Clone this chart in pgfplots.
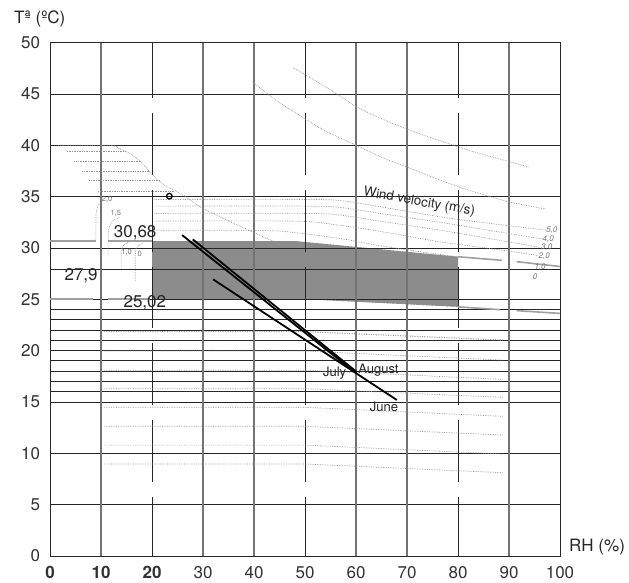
\documentclass[border=0pt]{standalone}
\usepackage{pgfplots}
\pgfplotsset{compat=1.18}
\usetikzlibrary{patterns}
\usepackage{fontspec}
\setmainfont{TeX Gyre Heros}
\definecolor{boxgray}{RGB}{140,140,140}
\definecolor{dotgray}{RGB}{150,150,150}
\definecolor{solgray}{RGB}{160,160,160}
\begin{document}
\begin{tikzpicture}
\begin{axis}[
  scale only axis, width=510pt, height=513.3pt,
  xmin=0,xmax=100,ymin=0,ymax=50,
  axis line style={black!85,line width=0.9pt},
  xtick={0,10,...,100}, ytick={0,5,...,50},
  major tick length=0pt,
  xticklabels={\textbf{0},\textbf{10},\textbf{20},30,40,50,60,70,80,90,100},
  ticklabel style={font=\fontsize{17}{20}\selectfont, text=black!80},
  xticklabel style={yshift=-7pt},
  yticklabel style={xshift=-6.5pt},
  /pgf/number format/assume math mode=true,
  clip=false,
  hgrid/.style={black!85,line width=0.9pt},
  vgrid/.style={black!55,line width=1.1pt},
  vdash/.style={black!85,line width=0.9pt,dash pattern=on 61.7pt off 15pt,dash phase=6.1pt},
  dots/.style={dotgray,line width=0.7pt,densely dotted},
  sol/.style={solgray,line width=1.6pt},
  month/.style={black,line width=1.8pt},
]
% shaded comfort zone
\addplot[draw=none, fill=boxgray, postaction={pattern=vertical lines, pattern color=black!45}]
  coordinates {(20,25.02)(20,30.68)(48,30.68)(80,29.15)(80,24.27)(50,25.02)};

% horizontal grid
\pgfplotsinvokeforeach{5,10,15,16,17,18,19,20,21,22,23,24,25,27.9,30,35,40,45}{
  \addplot[hgrid] coordinates {(0,#1)(100,#1)};
}
% vertical grid
\pgfplotsinvokeforeach{10,30,40,60,70,90}{
  \addplot[vgrid] coordinates {(#1,0)(#1,50)};
}
\pgfplotsinvokeforeach{20,50,80}{
  \addplot[vdash] coordinates {(#1,50)(#1,0)};
}

% solid grey boundary pieces
\addplot[sol] coordinates {(0,30.68)(9,30.68)};
\addplot[sol] coordinates {(11.4,30.68)(20,30.68)};
\addplot[sol] coordinates {(0,25.02)(8.5,25.02)};
\addplot[sol] coordinates {(11.4,25.02)(19.6,25.02)};
\addplot[sol] coordinates {(80,29.15)(88.6,28.8)};
\addplot[sol] coordinates {(91.5,28.67)(100,28.2)};
\addplot[sol] coordinates {(80,24.27)(88.2,24.0)};
\addplot[sol] coordinates {(91.5,23.9)(100,23.63)};

% upper-left envelope curve
\addplot[dots, smooth] coordinates {(1.6,40.0)(11.76,40.0)(13.5,39.7)(15.7,39.2)(17.8,38.4)(19.6,37.4)(21.2,36.6)(22.9,36.0)(26.1,35.15)(29.4,34.0)(32.7,33.2)(36,32.4)(39.2,31.7)(42.2,31.0)(45.1,30.4)};
\addplot[dots] coordinates {(3.3,39.4)(14.8,39.4)};
\addplot[dots] coordinates {(4.8,38.46)(17.6,38.46)};
\addplot[dots] coordinates {(6.3,37.5)(19.4,37.5)};
\addplot[dots] coordinates {(7.7,36.55)(21.4,36.55)};
\addplot[dots] coordinates {(9.5,35.5)(24.3,35.5)};

% heat curves (top right)
\addplot[dots, smooth] coordinates {(39.75,46.2)(44,44.5)(49,42.9)(54,41.4)(60.1,40.0)(65,38.85)(69.9,37.9)(75,36.9)(80.1,35.96)(85,35.2)(90,34.5)(97.2,33.8)};
\addplot[dots, smooth] coordinates {(47.6,47.55)(49,47.2)(55,45.4)(60.1,43.75)(65,42.6)(69.9,41.6)(75,40.7)(80.1,39.85)(85,39.1)(90.2,38.4)(93.8,37.9)};

% wind velocity lines
\addplot[dots, smooth] coordinates {(20.5,34.73)(50,34.73)(57,34.62)(65,34.0)(76.5,33.04)(87,32.35)(97.4,31.74)};
\addplot[dots, smooth] coordinates {(20.5,34.08)(50,34.08)(57,33.95)(65,33.35)(76.5,32.5)(87,31.65)(96.7,30.87)};
\addplot[dots, smooth] coordinates {(20.5,33.37)(50,33.37)(57,33.2)(65,32.6)(76.5,31.74)(87,30.85)(96,30.06)};
\addplot[dots, smooth] coordinates {(20.5,32.62)(48,32.62)(57,32.2)(65,31.6)(76.5,30.6)(87,29.9)(95.7,29.27)};
\addplot[dots, smooth] coordinates {(20.5,31.74)(42,31.7)(48,31.5)(56.9,30.93)(65,30.2)(76.5,29.37)(80,29.15)};

% left wind curves
\addplot[dots, smooth] coordinates {(10.4,34.6)(9.5,34.2)(9.05,33.4)(9.0,32.5)(9.0,30.7)};
\addplot[dots, smooth] coordinates {(13.6,33.0)(12.2,32.6)(11.5,31.8)(11.4,31.0)(11.4,29.2)};
\addplot[dots, smooth] coordinates {(15.6,30.6)(14.5,30.3)(14.0,29.7)(13.95,28.0)};
\addplot[dots, smooth] coordinates {(18.2,30.5)(17.1,30.1)(16.75,29.5)(16.7,26.7)};

% lower lines
\addplot[dots, line width=1.1pt] coordinates {(10.65,21.85)(50,21.85)(88.9,21.03)};
\addplot[dots] coordinates {(10.65,19.96)(50,19.96)(88.9,19.08)};
\addplot[dots] coordinates {(10.65,18.1)(50,18.1)(88.9,17.2)};
\addplot[dots] coordinates {(10.65,16.3)(50,16.3)(88.9,15.45)};
\addplot[dots] coordinates {(10.65,14.48)(50,14.48)(88.9,13.6)};
\addplot[dots] coordinates {(10.65,12.63)(50,12.63)(88.9,11.78)};
\addplot[dots] coordinates {(10.65,10.8)(50,10.8)(88.9,9.93)};
\addplot[dots] coordinates {(10.65,8.96)(50,8.96)(88.9,8.11)};

% monthly lines
\addplot[month] coordinates {(25.9,31.26)(59.5,18.0)};
\addplot[month] coordinates {(28,30.84)(60.2,17.9)};
\addplot[month] coordinates {(32,26.94)(68,15.2)};

% point
\addplot[only marks, mark=o, mark size=2.8pt, black, line width=1.3pt] coordinates {(23.4,35.05)};

% labels
\node[font=\fontsize{17}{20}\selectfont, text=black!85] at (axis cs:16.7,31.5) {30,68};
\node[font=\fontsize{17}{20}\selectfont, text=black!85] at (axis cs:6.1,27.26) {27,9};
\node[font=\fontsize{17}{20}\selectfont, text=black!85] at (axis cs:18.6,24.7) {25,02};

\node[font=\fontsize{13}{15}\selectfont, text=black!85] at (axis cs:55.8,17.8) {July};
\node[font=\fontsize{13}{15}\selectfont, text=black!85] at (axis cs:64.4,18.1) {August};
\node[font=\fontsize{13}{15}\selectfont, text=black!85] at (axis cs:65.5,14.5) {June};

\node[font=\fontsize{13.4}{15}\selectfont, text=black!85, rotate=-10] at (axis cs:72.4,34.45) {Wind velocity (m/s)};

\node[font=\fontsize{7.5}{9}\selectfont, text=black!55] at (axis cs:11.2,34.7) {2,0};
\node[font=\fontsize{7.5}{9}\selectfont, text=black!55] at (axis cs:12.9,33.4) {1,5};
\node[font=\fontsize{7.5}{9}\selectfont, text=black!55] at (axis cs:15.0,29.6) {1,0};
\node[font=\fontsize{7.5}{9}\selectfont, text=black!55] at (axis cs:17.6,29.4) {0};

\node[font=\fontsize{8}{9}\selectfont\itshape, text=black!55] at (axis cs:98.4,31.74) {5,0};
\node[font=\fontsize{8}{9}\selectfont\itshape, text=black!55] at (axis cs:97.7,30.87) {4,0};
\node[font=\fontsize{8}{9}\selectfont\itshape, text=black!55] at (axis cs:97.4,30.06) {3,0};
\node[font=\fontsize{8}{9}\selectfont\itshape, text=black!55] at (axis cs:96.9,29.15) {2,0};
\node[font=\fontsize{8}{9}\selectfont\itshape, text=black!55] at (axis cs:96.1,28.1) {1,0};
\node[font=\fontsize{8}{9}\selectfont\itshape, text=black!55] at (axis cs:95.1,27.2) {0};
\end{axis}
\node[anchor=base west, font=\fontsize{17}{20}\selectfont, text=black!85, inner sep=0pt] at (-36pt,532pt) {Tª (ºC)};
\node[anchor=base west, font=\fontsize{17}{20}\selectfont, text=black!85, inner sep=0pt] at (519pt,4pt) {RH (\%)};
\pgfresetboundingbox
\path (-50pt,-27pt) rectangle (579pt,556pt);
\end{tikzpicture}
\end{document}
